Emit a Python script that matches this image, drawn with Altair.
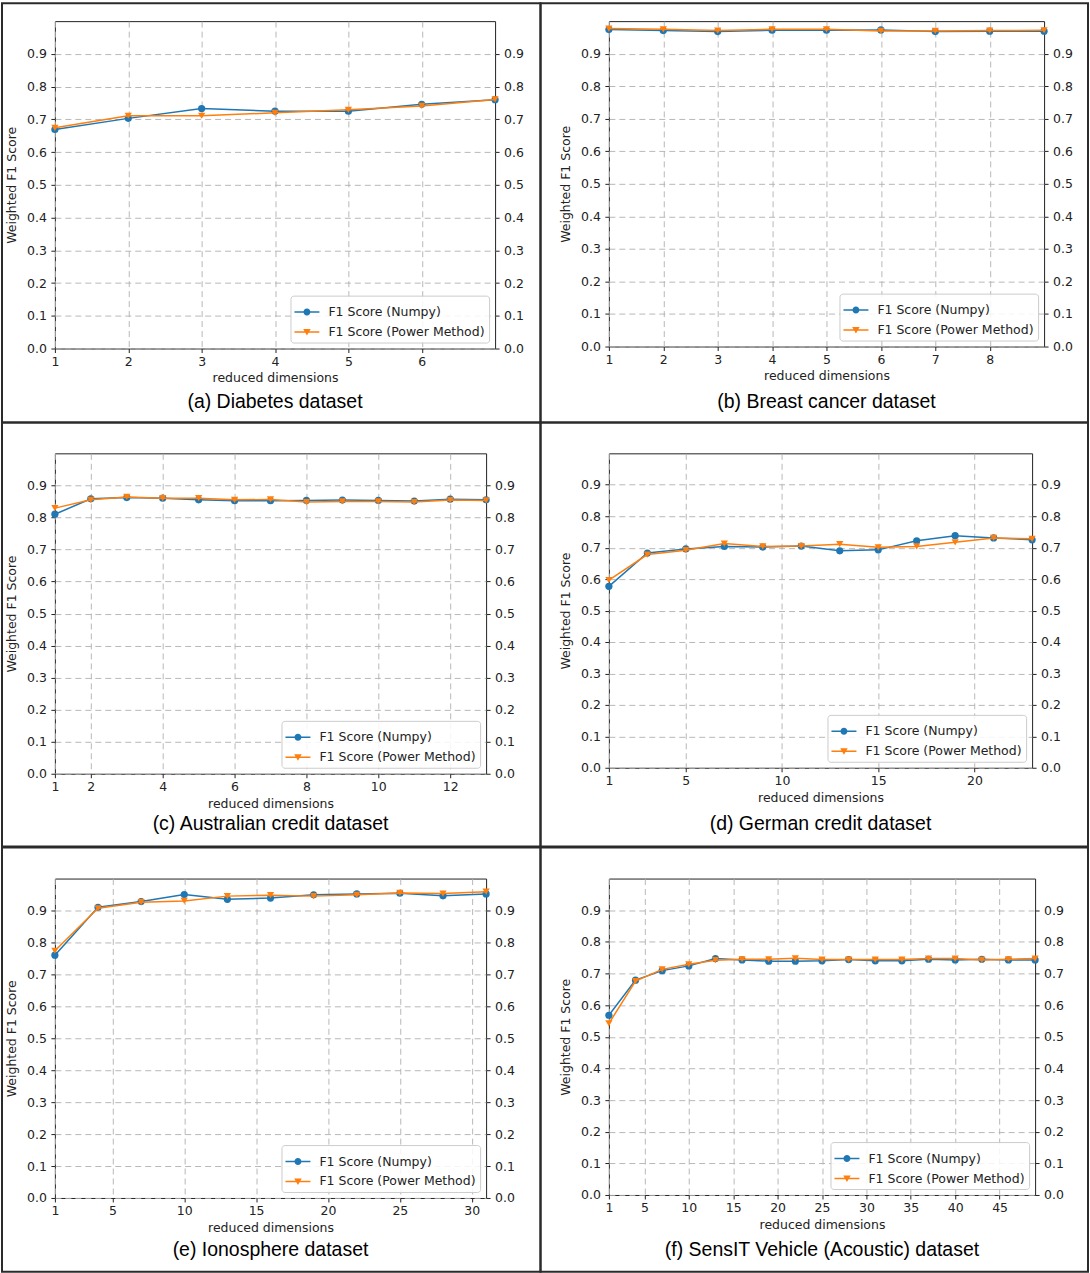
import altair as alt
import pandas as pd

series_names = ["F1 Score (Numpy)", "F1 Score (Power Method)"]
series_colors = ["#1f77b4", "#ff7f0e"]

# (a) Diabetes
a_dims = [1, 2, 3, 4, 5, 6, 7]
a_numpy = [0.669, 0.703, 0.733, 0.725, 0.725, 0.746, 0.760]
a_power = [0.674, 0.711, 0.711, 0.720, 0.729, 0.741, 0.761]
a_ticks = [1, 2, 3, 4, 5, 6]

# (b) Breast cancer
b_dims = [1, 2, 3, 4, 5, 6, 7, 8, 9]
b_numpy = [0.974, 0.971, 0.968, 0.972, 0.972, 0.973, 0.968, 0.969, 0.969]
b_power = [0.977, 0.975, 0.971, 0.975, 0.975, 0.970, 0.970, 0.971, 0.972]
b_ticks = [1, 2, 3, 4, 5, 6, 7, 8]

# (c) Australian credit
c_dims = [1, 2, 3, 4, 5, 6, 7, 8, 9, 10, 11, 12, 13]
c_numpy = [0.810, 0.858, 0.862, 0.860, 0.855, 0.852, 0.852, 0.853, 0.854, 0.853, 0.851, 0.857, 0.855]
c_power = [0.829, 0.855, 0.864, 0.860, 0.860, 0.855, 0.856, 0.848, 0.850, 0.850, 0.848, 0.854, 0.853]
c_ticks = [1, 2, 4, 6, 8, 10, 12]

# (d) German credit
d_dims = [1, 3, 5, 7, 9, 11, 13, 15, 17, 19, 21, 23]
d_numpy = [0.577, 0.683, 0.696, 0.704, 0.702, 0.705, 0.690, 0.693, 0.722, 0.738, 0.731, 0.725]
d_power = [0.597, 0.678, 0.692, 0.713, 0.704, 0.705, 0.711, 0.701, 0.704, 0.717, 0.731, 0.728]
d_ticks = [1, 5, 10, 15, 20]

# (e) Ionosphere
e_dims = [1, 4, 7, 10, 13, 16, 19, 22, 25, 28, 31]
e_numpy = [0.760, 0.910, 0.928, 0.950, 0.935, 0.939, 0.949, 0.952, 0.954, 0.946, 0.952]
e_power = [0.774, 0.907, 0.926, 0.930, 0.945, 0.948, 0.945, 0.949, 0.955, 0.953, 0.959]
e_ticks = [1, 5, 10, 15, 20, 25, 30]

# (f) SensIT Vehicle (Acoustic)
f_dims = [1, 4, 7, 10, 13, 16, 19, 22, 25, 28, 31, 34, 37, 40, 43, 46, 49]
f_numpy = [0.568, 0.679, 0.709, 0.724, 0.747, 0.743, 0.739, 0.739, 0.740, 0.744, 0.740, 0.740, 0.745, 0.743, 0.745, 0.743, 0.743]
f_power = [0.542, 0.676, 0.713, 0.729, 0.742, 0.745, 0.745, 0.748, 0.744, 0.744, 0.744, 0.744, 0.747, 0.747, 0.743, 0.745, 0.747]
f_ticks = [1, 5, 10, 15, 20, 25, 30, 35, 40, 45]

y_ticks = [0.0, 0.1, 0.2, 0.3, 0.4, 0.5, 0.6, 0.7, 0.8, 0.9]

# legend symbols: line segment with marker (custom paths, unit square)
legend_paths = [
    "M-1,-0.06L1,-0.06L1,0.06L-1,0.06Z M-0.28,0A0.28,0.28 0 1,1 0.28,0A0.28,0.28 0 1,1 -0.28,0Z",
    "M-1,-0.06L1,-0.06L1,0.06L-1,0.06Z M-0.3,-0.24L0.3,-0.24L0,0.28Z",
]

SMALL = "DejaVu Sans"
FS = 12.5
INK = "#222222"


def panel(dims, numpy_vals, power_vals, ticks, caption, W, H, box, cap_offset):
    df = pd.DataFrame({"dim": dims, "numpy": numpy_vals, "power": power_vals})
    xs = alt.Scale(domain=[dims[0], dims[-1]], nice=False, zero=False)
    ys = alt.Scale(domain=[0, 1], nice=False)
    x_axis = alt.Axis(values=ticks, format="d", title="reduced dimensions", grid=True,
                      labelPadding=3, titlePadding=4, labelFlush=False)
    left_axis = alt.Axis(values=y_ticks, format=".1f", title="Weighted F1 Score", grid=True,
                         orient="left", labelPadding=4.5, titlePadding=8, labelFlush=False)
    right_axis = alt.Axis(values=y_ticks, format=".1f", title=None, grid=False,
                          orient="right", labelPadding=4.5, labelFlush=False)
    leg = alt.Legend(title=None, orient="bottom-right", offset=6, padding=4, rowPadding=1,
                     fillColor="rgba(255,255,255,0.85)", strokeColor="#cccccc", cornerRadius=3,
                     labelFont=SMALL, labelFontSize=FS, labelColor=INK, symbolSize=625,
                     symbolStrokeWidth=0, labelOffset=9, labelLimit=400)

    frame = alt.Chart(pd.DataFrame({"k": [0]})).mark_rect(
        fill="transparent", stroke="#2b2b2b", strokeWidth=2
    ).encode(x=alt.value(box[0]), x2=alt.value(box[1]), y=alt.value(box[2]), y2=alt.value(box[3]))

    base = alt.Chart(df)
    X = alt.X("dim:Q", scale=xs, axis=x_axis)
    line_np = base.mark_line(color=series_colors[0], strokeWidth=1.5).encode(
        x=X, y=alt.Y("numpy:Q", scale=ys, axis=left_axis),
    )
    pts_np = base.mark_point(shape="circle", filled=True, size=52, opacity=1,
                             color=series_colors[0]).encode(
        x=X, y=alt.Y("numpy:Q", scale=ys, axis=None),
    )
    line_pw = base.mark_line(color=series_colors[1], strokeWidth=1.5).encode(
        x=X, y=alt.Y("power:Q", scale=ys, axis=right_axis),
    )
    pts_pw = base.mark_point(shape="triangle-down", filled=True, size=52, opacity=1,
                             color=series_colors[1]).encode(
        x=X, y=alt.Y("power:Q", scale=ys, axis=None),
    )
    legend_layer = alt.Chart(pd.DataFrame({"series": series_names})).mark_point(
        filled=True, size=625, opacity=1
    ).encode(
        color=alt.Color("series:N", scale=alt.Scale(domain=series_names, range=series_colors), legend=leg),
        shape=alt.Shape("series:N", scale=alt.Scale(domain=series_names, range=legend_paths), legend=leg),
    ).transform_filter("false")

    return alt.layer(frame, line_np, pts_np, line_pw, pts_pw, legend_layer).resolve_axis(
        y="independent"
    ).properties(
        width=W, height=H,
        title=alt.TitleParams(caption, orient="bottom", anchor="middle", frame="group",
                              font="Liberation Sans", fontSize=19.5, fontWeight="normal",
                              color="black", offset=cap_offset),
    )


pa = panel(a_dims, a_numpy, a_power, a_ticks, "(a) Diabetes dataset", 441, 328, (-53, 486.5, -18, 402), -30)
pb = panel(b_dims, b_numpy, b_power, b_ticks, "(b) Breast cancer dataset", 436, 326, (-68.5, 480, -18, 402), -30)
pc = panel(c_dims, c_numpy, c_power, c_ticks, "(c) Australian credit dataset", 432, 321, (-53, 486.5, -31, 394), -33)
pd_ = panel(d_dims, d_numpy, d_power, d_ticks, "(d) German credit dataset", 424, 315, (-68.5, 480, -31, 394), -33)
pe = panel(e_dims, e_numpy, e_power, e_ticks, "(e) Ionosphere dataset", 432, 320, (-53, 486.5, -31, 394), -32)
pf = panel(f_dims, f_numpy, f_power, f_ticks, "(f) SensIT Vehicle (Acoustic) dataset", 427, 317, (-68.5, 480, -31, 394), -32)

chart = alt.concat(
    pa, pb, pc, pd_, pe, pf,
    columns=2, spacing={"row": 105, "column": 114}, bounds="flush", align="each",
).resolve_scale(
    color="independent", shape="independent"
).properties(
    padding=0, background="white", autosize=alt.AutoSizeParams(type="pad")
).configure_view(
    stroke="#222222", strokeWidth=1
).configure_axis(
    labelFont=SMALL, labelFontSize=FS, labelColor=INK,
    titleFont=SMALL, titleFontSize=FS, titleFontWeight="normal", titleColor=INK,
    tickColor=INK, tickSize=4, tickWidth=1, domain=False,
    gridColor="#b0b0b0", gridDash=[6, 4], gridWidth=0.9,
)

chart.save("out.html", embed_options={"renderer": "svg", "actions": False})
